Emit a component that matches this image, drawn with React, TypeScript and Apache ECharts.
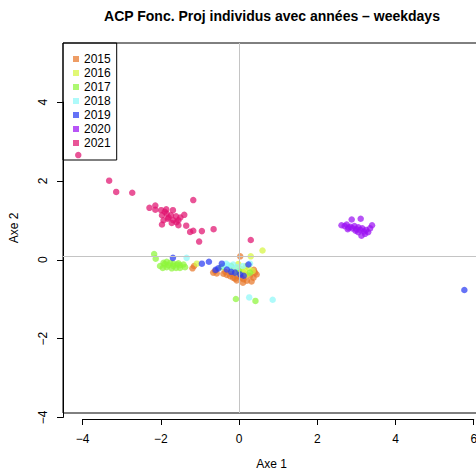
import React, { useEffect, useRef } from 'react';
import * as echarts from 'echarts';

const TITLE = 'ACP Fonc. Proj individus avec années – weekdays';
const X_NAME = 'Axe 1';
const Y_NAME = 'Axe 2';

const years = ['2015', '2016', '2017', '2018', '2019', '2020', '2021'];
const colors = ['#E8772A', '#D6F540', '#8EF53A', '#8FF8F8', '#2A3CF2', '#9B12F2', '#E0126F'];

const pts2015 = [
  [0.03, 0.0], [-1.19, -0.31], [-1.15, -0.25], [-0.66, -0.42], [-0.61, -0.38], [-0.57, -0.44],
  [-0.4, -0.45], [-0.31, -0.48], [-0.23, -0.51], [-0.19, -0.45], [-0.15, -0.55], [-0.06, -0.62],
  [0.05, -0.55], [0.11, -0.59], [0.2, -0.63], [0.32, -0.65], [0.37, -0.55], [0.41, -0.42],
  [0.45, -0.47], [0.28, -0.5], [0.15, -0.48], [-0.05, -0.5], [0.38, -0.35], [0.1, -0.68],
  [-0.35, -0.4], [-0.1, -0.58],
];
const pts2016 = [
  [0.6, 0.15], [0.3, 0.0], [-1.08, -0.19], [-0.06, -0.3], [0.15, -0.36], [-0.06, -0.42],
  [0.2, -0.47], [0.05, -0.33], [0.25, -0.3], [-0.2, -0.35], [0.1, -0.4], [0.35, -0.38],
  [-0.02, -0.2], [0.18, -0.25],
];
const pts2017 = [
  [-2.17, 0.06], [-2.13, -0.06], [-1.93, -0.17], [-1.85, -0.14], [-1.76, -0.17], [-1.68, -0.19],
  [-1.59, -0.21], [-1.51, -0.23], [-1.42, -0.21], [-1.95, -0.3], [-1.85, -0.28], [-1.72, -0.31],
  [-1.61, -0.3], [-1.51, -0.3], [-1.68, -0.25], [-1.81, -0.23], [-2.02, -0.25], [-1.38, -0.28],
  [-0.08, -1.1], [0.42, -1.15], [-0.45, -0.28], [-0.2, -0.25], [-1.9, -0.2], [-1.55, -0.18],
  [0.0, -0.38], [0.28, -0.42],
];
const pts2018 = [
  [-1.34, -0.04], [-0.33, -0.19], [-0.27, -0.23], [-0.15, -0.21], [0.28, -0.19], [0.26, -1.06],
  [0.86, -1.12], [-0.2, -0.3], [-0.05, -0.28], [0.1, -0.25], [-0.4, -0.25],
];
const pts2019 = [
  [-1.69, -0.04], [-0.95, -0.19], [-0.77, -0.14], [-0.44, -0.19], [-0.53, -0.31], [-0.31, -0.34],
  [-0.1, -0.42], [0.03, -0.47], [0.24, -0.21], [-0.2, -0.4], [5.76, -0.87], [-0.6, -0.35],
  [0.12, -0.5],
];
const pts2020 = [
  [2.62, 0.8], [2.7, 0.78], [2.75, 0.82], [2.8, 0.74], [2.85, 0.76], [2.9, 0.72], [2.95, 0.78],
  [3.0, 0.7], [3.05, 0.75], [3.1, 0.68], [3.15, 0.72], [3.2, 0.64], [3.25, 0.68], [3.3, 0.62],
  [3.35, 0.72], [3.4, 0.8], [2.88, 0.95], [3.11, 0.97], [3.13, 0.53], [3.22, 0.58], [2.78, 0.7],
  [2.98, 0.66], [3.05, 0.62],
];
const pts2021 = [
  [-4.11, 2.61], [-3.32, 1.95], [-3.14, 1.66], [-2.73, 1.64], [-2.29, 1.25], [-2.14, 1.31],
  [-2.14, 1.2], [-1.99, 1.19], [-1.86, 1.21], [-1.69, 1.19], [-1.17, 1.45], [-1.4, 1.07],
  [-1.97, 1.06], [-1.85, 1.1], [-1.74, 1.06], [-1.61, 1.03], [-1.93, 0.93], [-1.82, 0.97],
  [-1.68, 0.93], [-1.55, 0.93], [-1.97, 0.82], [-1.72, 0.86], [-1.55, 0.8], [-1.35, 0.79],
  [-1.25, 0.63], [-1.17, 0.66], [-0.95, 0.65], [-0.65, 0.7], [-1.02, 0.38], [0.3, 0.42],
  [-1.9, 1.15], [-1.8, 1.0], [-1.6, 0.88], [-1.5, 1.0],
];
const seriesPoints = [pts2015, pts2016, pts2017, pts2018, pts2019, pts2020, pts2021];

// axis ranges (data units) and tick ranges
const xRange = [-4.5, 6.16];
const yRange = [-4.04, 5.5];
const xTickRange = [-4, 6];
const yTickRange = [-4, 4];
const tickStep = 2;

const FONT = '"Liberation Sans", Arial, Helvetica, sans-serif';

export default function App() {
  const ref = useRef<HTMLDivElement>(null);
  useEffect(() => {
    document.body.style.margin = '0';
    const chart = echarts.init(ref.current!, undefined, { renderer: 'svg' });

    const G = { left: 63, top: 43, width: 417, height: 376 };
    const pxX = G.width / (xRange[1] - xRange[0]);
    const pxY = G.height / (yRange[1] - yRange[0]);
    const gx = { left: G.left + (xTickRange[0] - xRange[0]) * pxX, width: (xTickRange[1] - xTickRange[0]) * pxX };
    const gy = { top: G.top + (yRange[1] - yTickRange[1]) * pxY, height: (yTickRange[1] - yTickRange[0]) * pxY };
    const minus = (v: number) => String(v).replace('-', '\u2212');

    const hidden = {
      axisLine: { show: false },
      axisTick: { show: false },
      axisLabel: { show: false },
      splitLine: { show: false },
    };

    chart.setOption({
      animation: false,
      backgroundColor: '#ffffff',
      textStyle: { fontFamily: FONT },
      grid: [
        { left: G.left, top: G.top, width: G.width, height: G.height, show: true, borderColor: '#000', borderWidth: 1, backgroundColor: 'transparent' },
        { left: gx.left, top: G.top, width: gx.width, height: G.height, show: false },
        { left: G.left, top: gy.top, width: G.width, height: gy.height, show: false },
      ],
      xAxis: [
        {
          gridIndex: 0, type: 'value', min: xRange[0], max: xRange[1], ...hidden,
          name: X_NAME, nameLocation: 'middle', nameGap: 45,
          nameTextStyle: { color: '#000', fontSize: 12, fontFamily: FONT },
        },
        {
          gridIndex: 1, type: 'value', min: xTickRange[0], max: xTickRange[1], interval: tickStep,
          axisLine: { show: true, onZero: false, lineStyle: { color: '#000', width: 1 } },
          axisTick: { show: true, length: 6, lineStyle: { color: '#000' } },
          axisLabel: { show: true, color: '#000', fontSize: 12, margin: 14, fontFamily: FONT, formatter: minus },
          splitLine: { show: false },
        },
        { gridIndex: 2, type: 'value', min: 0, max: 1, show: false },
      ],
      yAxis: [
        {
          gridIndex: 0, type: 'value', min: yRange[0], max: yRange[1], ...hidden,
          name: Y_NAME, nameLocation: 'middle', nameGap: 43,
          nameTextStyle: { color: '#000', fontSize: 12, fontFamily: FONT },
        },
        { gridIndex: 1, type: 'value', min: 0, max: 1, show: false },
        {
          gridIndex: 2, type: 'value', min: yTickRange[0], max: yTickRange[1], interval: tickStep,
          axisLine: { show: true, onZero: false, lineStyle: { color: '#000', width: 1 } },
          axisTick: { show: true, length: 6, lineStyle: { color: '#000' } },
          axisLabel: { show: true, color: '#000', fontSize: 12, margin: 14, rotate: 90, fontFamily: FONT, formatter: minus },
          splitLine: { show: false },
        },
      ],
      legend: {
        data: years,
        orient: 'vertical',
        left: 63,
        top: 43,
        padding: [10, 6, 11, 10],
        itemGap: 2,
        itemWidth: 6,
        itemHeight: 6,
        icon: 'rect',
        borderColor: '#000',
        borderWidth: 1,
        backgroundColor: 'transparent',
        textStyle: { color: '#000', fontSize: 12, fontFamily: FONT },
      },
      graphic: [
        {
          type: 'text', x: 272, y: 16, z: 100,
          style: { text: TITLE, textAlign: 'center', textVerticalAlign: 'middle', font: 'bold 14px ' + FONT, fill: '#000' },
        },
      ],
      series: [
        {
          type: 'scatter', name: '__ref', xAxisIndex: 0, yAxisIndex: 0, data: [], z: 1,
          markLine: {
            silent: true, symbol: 'none', label: { show: false },
            lineStyle: { color: '#c4c4c4', type: 'solid', width: 1 },
            data: [{ xAxis: 0 }, { yAxis: 0 }],
          },
        },
        ...years.map((y, i) => ({
          type: 'scatter',
          name: y,
          xAxisIndex: 0,
          yAxisIndex: 0,
          data: seriesPoints[i],
          symbol: 'circle',
          symbolSize: 6.5,
          z: 2,
          itemStyle: { color: colors[i], opacity: 0.72 },
        })),
      ],
    });
    return () => chart.dispose();
  }, []);

  return (
    <div style={{ position: 'fixed', left: 0, top: 0, width: 476, height: 475, overflow: 'hidden', background: '#fff' }}>
      <div ref={ref} style={{ width: 490, height: 475 }} />
    </div>
  );
}
